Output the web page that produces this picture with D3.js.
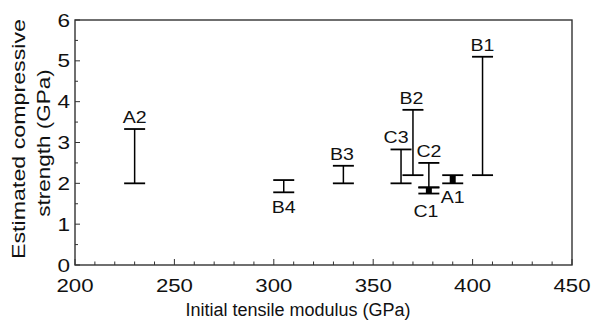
<!DOCTYPE html>
<html>
<head>
<meta charset="utf-8">
<script src="https://cdn.jsdelivr.net/npm/d3@7"></script>
<style>
  html, body { margin: 0; padding: 0; background: #fff; }
  svg { display: block; }
  text { font-family: "Liberation Sans", Arial, Helvetica, sans-serif; fill: #111; }
</style>
</head>
<body>
<svg id="chart" width="594" height="320"></svg>
<script>
// Fibre samples: initial tensile modulus vs. estimated compressive strength range
const samples      = ["A2", "B4", "B3", "C3", "B2", "C2", "C1", "A1", "B1"];
const modulus      = [230, 305, 335, 364, 370, 378, 378, 390, 405];     // GPa
const strengthLow  = [2.0, 1.78, 2.0, 2.0, 2.2, 1.9, 1.75, 2.0, 2.2];   // GPa
const strengthHigh = [3.33, 2.08, 2.43, 2.83, 3.8, 2.5, 1.9, 2.2, 5.1]; // GPa

const xTicks = [200, 250, 300, 350, 400, 450];
const yTicks = [0, 1, 2, 3, 4, 5, 6];
const xTitle = "Initial tensile modulus (GPa)";
const yTitle = ["Estimated compressive", "strength (GPa)"];

const rows = samples.map((name, i) => ({
  name, x: modulus[i], lo: strengthLow[i], hi: strengthHigh[i]
}));

const svg = d3.select("#chart");
const plotLeft = 75, plotRight = 572, plotTop = 20, plotBottom = 265;

const x = d3.scaleLinear().domain([200, 450]).range([plotLeft, plotRight]);
const y = d3.scaleLinear().domain([0, 6]).range([plotBottom, plotTop]);

// text helper: the typeface in this figure runs wide, so glyphs are stretched along the baseline
function label(g, px, py, str, size, sx, anchor, rot = 0) {
  return g.append("text")
    .attr("transform", `translate(${px},${py}) rotate(${rot}) scale(${sx},1)`)
    .attr("text-anchor", anchor)
    .style("font-size", size + "px")
    .text(str);
}

// frame
const axisColor = "#333";
svg.append("rect")
  .attr("x", plotLeft).attr("y", plotTop)
  .attr("width", plotRight - plotLeft).attr("height", plotBottom - plotTop)
  .attr("fill", "none").attr("stroke", axisColor).attr("stroke-width", 1.4);

// minor and major ticks pointing inward
const xMinor = d3.range(200, 451, 10);
svg.append("g").selectAll("line").data(xMinor).join("line")
  .attr("x1", d => x(d)).attr("x2", d => x(d))
  .attr("y1", plotBottom).attr("y2", d => plotBottom - (d % 50 === 0 ? 6 : 3.5))
  .attr("stroke", axisColor).attr("stroke-width", 1);

const yMinor = d3.range(0, 6.01, 0.5);
svg.append("g").selectAll("line").data(yMinor).join("line")
  .attr("y1", d => y(d)).attr("y2", d => y(d))
  .attr("x1", plotLeft).attr("x2", d => plotLeft + (Number.isInteger(d) ? 5 : 3))
  .attr("stroke", axisColor).attr("stroke-width", 1);

// tick labels
const tg = svg.append("g");
xTicks.forEach(v => label(tg, x(v), 292, String(v), 18.5, 1.2, "middle"));
yTicks.forEach(v => label(tg, 70, y(v) + 6.6, String(v), 18.5, 1.22, "end"));

// axis titles
label(svg, 298, 316, xTitle, 18, 1.0, "middle");
label(svg, 25, 139, yTitle[0], 18, 1.29, "middle", -90);
label(svg, 50, 143, yTitle[1], 18, 1.25, "middle", -90);

// error bars
const capHalf = 10.5;
const solid = new Set(["A1", "C1"]);   // short ranges drawn as a filled bar
const bars = svg.append("g").attr("stroke", "#000");

bars.selectAll("line.stem").data(rows).join("line")
  .attr("class", "stem")
  .attr("x1", d => x(d.x)).attr("x2", d => x(d.x))
  .attr("y1", d => y(d.hi)).attr("y2", d => y(d.lo))
  .attr("stroke-width", d => solid.has(d.name) ? 6 : 1.5);

bars.selectAll("line.capHi").data(rows).join("line")
  .attr("class", "capHi")
  .attr("x1", d => x(d.x) - capHalf).attr("x2", d => x(d.x) + capHalf)
  .attr("y1", d => y(d.hi)).attr("y2", d => y(d.hi))
  .attr("stroke-width", 1.8);

bars.selectAll("line.capLo").data(rows).join("line")
  .attr("class", "capLo")
  .attr("x1", d => x(d.x) - capHalf).attr("x2", d => x(d.x) + capHalf)
  .attr("y1", d => y(d.lo)).attr("y2", d => y(d.lo))
  .attr("stroke-width", 1.8);

// sample labels: most sit above the bar, a few below it
const below = { B4: 21, C1: 23, A1: 20 };
const shiftX = { C3: -5, C1: -3, B2: -1.5, B3: -1.5 };
const lg = svg.append("g");
rows.forEach(d => {
  const px = x(d.x) + (shiftX[d.name] || 0);
  const py = d.name in below ? y(d.lo) + below[d.name] : y(d.hi) - 6;
  label(lg, px, py, d.name, 17, 1.15, "middle");
});
</script>
</body>
</html>
